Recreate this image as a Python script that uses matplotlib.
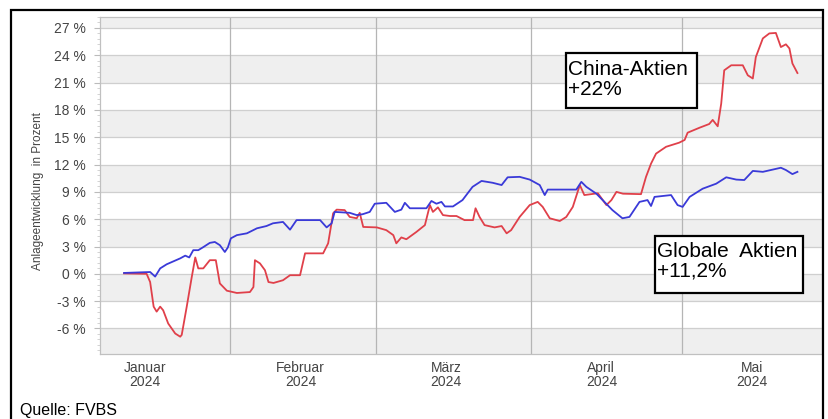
import matplotlib
matplotlib.use("Agg")
import matplotlib.pyplot as plt
from matplotlib.patches import Rectangle
from matplotlib.ticker import MultipleLocator, FixedLocator, FuncFormatter

plt.rcParams['font.family'] = ['Liberation Sans', 'DejaVu Sans']

# x = days since 2024-01-01, y = performance in %
global_days = [-4.2, 1.0, 2.0, 3.0, 4.3, 7.0, 8.0, 8.8, 9.6, 10.6, 11.5, 12.9, 13.9, 14.9, 15.9,
               16.5, 17.1, 18.3, 20.3, 22.3, 24.2, 25.5, 27.5, 28.9, 30.2, 34.9, 36.2, 37.2,
               37.8, 40.8, 42.2, 43.4, 44.8, 45.8, 48.1, 49.8, 51.1, 51.8, 52.8, 56.1, 57.1,
               58.1, 59.1, 59.8, 61.4, 63.3, 65.3, 67.1, 69.3, 71.1, 72.3, 74.7, 76.7, 78.7,
               79.7, 80.3, 86.0, 87.0, 88.0, 90.0, 91.6, 93.2, 95.2, 96.6, 98.6, 100.2, 100.9,
               101.6, 104.9, 106.2, 107.2, 108.6, 111.2, 113.9, 115.9, 117.9, 119.5, 121.2,
               123.2, 125.2, 126.8, 127.8, 129.1, 130.1]
global_vals = [0.1, 0.2, -0.3, 0.6, 1.05, 1.7, 2.0, 1.8, 2.6, 2.6, 2.9, 3.4, 3.5, 3.15, 2.4,
               2.9, 3.9, 4.25, 4.45, 5.0, 5.25, 5.55, 5.7, 4.85, 5.9, 5.9, 5.1, 5.55,
               6.8, 6.7, 6.45, 6.55, 6.8, 7.7, 7.8, 6.8, 7.05, 7.8, 7.2, 7.2, 8.0,
               7.7, 7.9, 7.4, 7.4, 8.1, 9.55, 10.2, 10.0, 9.75, 10.6, 10.65, 10.35, 9.75,
               8.65, 9.25, 9.25, 10.1, 9.55, 8.8, 7.9, 7.0, 6.1, 6.25, 7.9, 8.1, 7.45,
               8.45, 8.65, 7.55, 7.35, 8.45, 9.35, 9.9, 10.6, 10.35, 10.3, 11.3,
               11.2, 11.45, 11.65, 11.4, 10.95, 11.2]

china_days = [-4.2, 0.3, 1.0, 1.7, 2.3, 3.0, 3.6, 4.6, 6.0, 7.0, 7.3, 8.3, 9.3, 10.0, 10.6,
              11.6, 12.9, 14.1, 14.9, 16.3, 18.3, 20.9, 21.6, 21.9, 22.9, 23.9, 24.6, 25.6,
              27.5, 28.9, 30.9, 31.9, 35.5, 36.5, 37.5, 38.2, 39.8, 40.8, 42.2, 42.8, 43.5,
              46.2, 48.1, 49.5, 50.1, 51.1, 52.1, 54.1, 55.8, 56.8, 57.4, 58.4, 59.4, 60.8,
              62.1, 63.7, 65.4, 65.9, 66.7, 67.7, 69.7, 71.1, 72.1, 73.0, 74.7, 76.7, 78.3,
              79.3, 80.7, 82.7, 84.0, 85.3, 86.7, 87.6, 90.3, 92.0, 93.0, 94.0, 95.3, 98.9,
              99.9, 100.9, 101.9, 103.9, 106.5, 107.6, 108.2, 110.6, 112.5, 113.2, 114.2,
              114.9, 115.5, 116.9, 119.2, 120.2, 121.2, 121.8, 123.2, 124.5, 125.8, 126.8,
              127.8, 128.5, 129.1, 130.1]
china_vals = [0.05, 0.0, -0.9, -3.6, -4.15, -3.6, -4.0, -5.45, -6.55, -6.9, -6.7, -3.6, -0.35, 1.8, 0.6,
              0.6, 1.5, 1.5, -1.05, -1.85, -2.1, -2.0, -1.45, 1.5, 1.15, 0.4, -0.9, -1.0,
              -0.7, -0.15, -0.15, 2.25, 2.25, 3.35, 6.65, 7.05, 7.0, 6.25, 6.1, 6.7, 5.15,
              5.1, 4.8, 4.25, 3.35, 4.0, 3.8, 4.6, 5.35, 7.55, 6.8, 7.3, 6.45, 6.35,
              6.35, 5.9, 5.9, 7.2, 6.25, 5.35, 5.1, 5.25, 4.45, 4.8, 6.25, 7.55, 7.9,
              7.35, 6.1, 5.8, 6.25, 7.35, 9.75, 8.65, 8.85, 7.55, 8.1, 9.0, 8.8, 8.75,
              10.65, 12.1, 13.2, 13.95, 14.4, 14.7, 15.5, 16.05, 16.45, 16.9, 16.2,
              18.7, 22.35, 22.9, 22.9, 21.8, 21.45, 23.8, 25.85, 26.4, 26.45, 24.9,
              25.2, 24.75, 23.1, 22.05]

month_days = [0, 31, 60, 91, 121]
month_labels = ["Januar\n2024", "Februar\n2024", "März\n2024", "April\n2024", "Mai\n2024"]
vgrid_days = [17, 46, 77, 107]
y_ticks = [-6, -3, 0, 3, 6, 9, 12, 15, 18, 21, 24, 27]

W, H = 829, 419
fig = plt.figure(figsize=(W / 100, H / 100), dpi=100)
ax = fig.add_axes([100 / W, 1 - 354 / H, 722 / W, 337 / H])

ax.set_xlim(-9, 135)
ax.set_ylim(-8.8, 28.2)

# alternating bands
for lo in range(-9, 30, 6):
    ax.axhspan(lo, lo + 3, color='#efefef', zorder=0, lw=0)
for t in y_ticks:
    ax.axhline(t, color='#cfcfcf', lw=0.9, zorder=1)
for d in vgrid_days:
    ax.axvline(d, color='#b5b5b5', lw=0.9, zorder=1)

ax.plot(china_days, china_vals, color='#e0404a', lw=1.3, zorder=3)
ax.plot(global_days, global_vals, color='#3a3ad8', lw=1.3, zorder=4)

ax.yaxis.set_major_locator(FixedLocator(y_ticks))
ax.yaxis.set_minor_locator(MultipleLocator(0.6))
ax.yaxis.set_major_formatter(FuncFormatter(lambda v, p: f"{int(v)} %"))
ax.tick_params(axis='y', which='major', length=4, color='#bbbbbb', labelsize=10,
               labelcolor='#444444', pad=6)
ax.tick_params(axis='y', which='minor', length=2.5, color='#cccccc')
ax.set_xticks(month_days)
ax.set_xticklabels(month_labels)
ax.tick_params(axis='x', length=0, labelsize=10, labelcolor='#444444', pad=5)
for lab in ax.get_xticklabels():
    lab.set_linespacing(1.0)

for s in ax.spines.values():
    s.set_color('#c0c0c0')
    s.set_linewidth(0.9)

ax.set_ylabel("Anlageentwicklung  in Prozent", fontsize=8.5, color='#444444')
ax.yaxis.set_label_coords(-0.078, 0.484)

# outer frame
fig.add_artist(Rectangle((11.5 / W, -0.05), (823.5 - 11.5) / W, 1 - 10.5 / H + 0.05,
                         transform=fig.transFigure, fill=False, ec='black', lw=1.6,
                         clip_on=False))

# annotation boxes
def box(x0, y0, x1, y1, text, tx, ty):
    fig.add_artist(Rectangle((x0 / W, 1 - y1 / H), (x1 - x0) / W, (y1 - y0) / H,
                             transform=fig.transFigure, fc='white', ec='black', lw=1.6,
                             zorder=10))
    fig.text(tx / W, 1 - ty / H, text, fontsize=15, color='black', va='top', ha='left',
             linespacing=1.05, zorder=11)

box(566, 53, 697, 108, "China-Aktien\n+22%", 568, 60)
box(655, 236, 803, 293, "Globale  Aktien\n+11,2%", 657, 242)

fig.text(20 / W, 1 - 403 / H, "Quelle: FVBS", fontsize=11.5, color='black', va='top', ha='left')

fig.savefig("out.png", dpi=100)
